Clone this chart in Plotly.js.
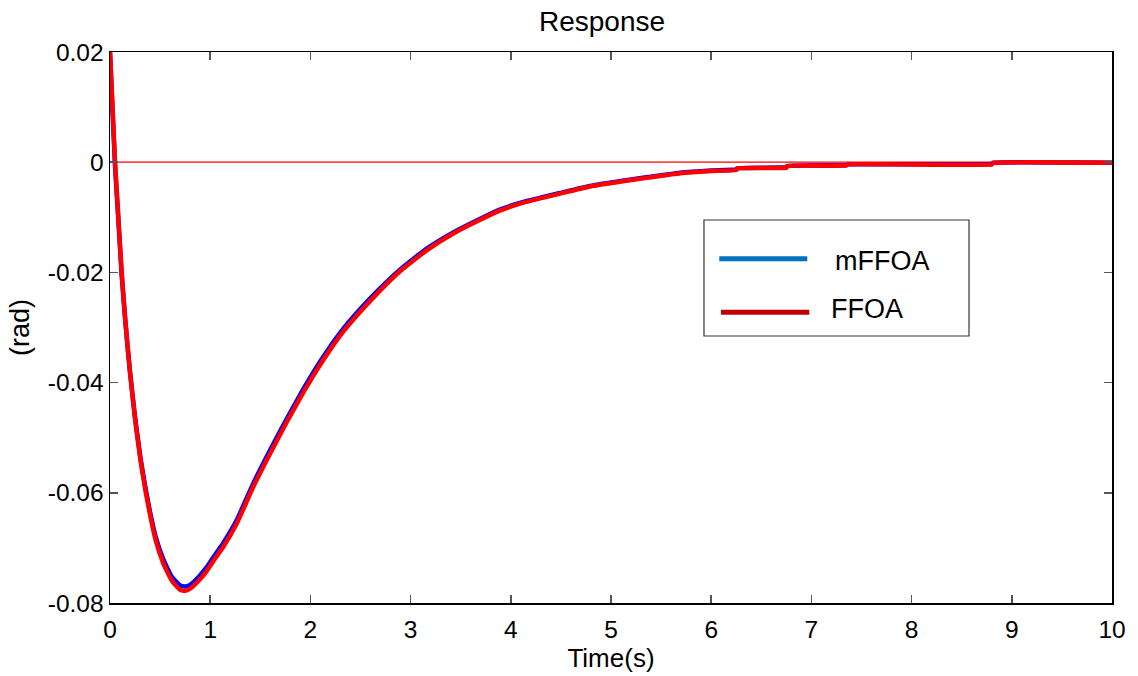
<!DOCTYPE html>
<html>
<head>
<meta charset="utf-8">
<script src="https://cdn.plot.ly/plotly-3.0.1.min.js"></script>
<style>html,body{margin:0;padding:0;background:#fff;}#chart{width:1138px;height:676px;}</style>
</head>
<body>
<div id="chart"></div>
<script>
// ---- data ----
const time = [0, 0.025, 0.05, 0.085, 0.117, 0.15, 0.176, 0.2, 0.25, 0.306,
  0.356, 0.4, 0.456, 0.532, 0.615, 0.7, 0.75, 0.8, 0.898, 0.965, 1.031,
  1.131, 1.264, 1.43, 1.597, 1.763, 1.929, 2.096, 2.295, 2.495, 2.695, 2.894,
  3.16, 3.43, 3.69, 3.89, 4.092,
  4.49, 4.79, 5.1, 5.37, 5.69, 6.0, 6.25,
  6.26, 6.75, 6.76, 7.35, 7.36, 8.8, 8.81, 10];

const ffoa = [0.02, 0.01, 0, -0.0105, -0.0202, -0.028, -0.0335, -0.0382, -0.0466, -0.0543,
  -0.0598, -0.0640, -0.0686, -0.0728, -0.0759, -0.0776, -0.0778, -0.0774, -0.0757, -0.0742, -0.0724,
  -0.0698, -0.0656, -0.0589, -0.0529, -0.0472, -0.0418, -0.0368, -0.0315, -0.0272, -0.0233, -0.0198,
  -0.0160, -0.0129, -0.0105, -0.0088, -0.0075,
  -0.0057, -0.0044, -0.0035, -0.0028, -0.0020, -0.0016, -0.0014,
  -0.0011, -0.0010, -0.0007, -0.0006, -0.0004, -0.0004, -0.00015, -0.0001];

const mffoa = [0.02, 0.0095, -0.0005, -0.011, -0.0205, -0.0282, -0.0336, -0.0381, -0.0463, -0.0539,
  -0.0593, -0.0635, -0.068, -0.0721, -0.0752, -0.0768, -0.077, -0.0767, -0.0750, -0.0735, -0.0717,
  -0.0691, -0.0650, -0.0583, -0.0523, -0.0466, -0.0412, -0.0362, -0.0310, -0.0267, -0.0229, -0.0195,
  -0.0157, -0.0127, -0.0103, -0.0086, -0.0074,
  -0.0056, -0.0043, -0.0034, -0.0027, -0.0019, -0.0015, -0.0013,
  -0.0011, -0.0009, -0.0007, -0.0005, -0.0004, -0.0003, -0.00012, -0.0001];

const refX = [0, 10];
const refY = [0, 0];

const xTickVals = [0, 1, 2, 3, 4, 5, 6, 7, 8, 9, 10];
const xTickText = ["0", "1", "2", "3", "4", "5", "6", "7", "8", "9", "10"];
const yTickVals = [0.02, 0, -0.02, -0.04, -0.06, -0.08];
const yTickText = ["0.02", "0", "-0.02", "-0.04", "-0.06", "-0.08"];

const legendNames = ["mFFOA", "FFOA"];
const chartTitle = "Response";
const xTitle = "Time(s)";
const yTitle = "(rad)";

// ---- traces ----
const traces = [
  {x: refX, y: refY, mode: "lines", line: {color: "#FF0000", width: 1.2}, showlegend: false, hoverinfo: "skip"},
  {x: time, y: mffoa, name: legendNames[0], mode: "lines", line: {color: "#0000FF", width: 4.5, shape: "spline", smoothing: 0.4}, showlegend: false},
  {x: time, y: ffoa, name: legendNames[1], mode: "lines", line: {color: "#FF0000", width: 4.5, shape: "spline", smoothing: 0.4}, showlegend: false}
];

const FONT = "Liberation Sans, Arial, sans-serif";

const layout = {
  width: 1138, height: 676,
  margin: {l: 110, r: 26, t: 52, b: 73},
  paper_bgcolor: "#ffffff", plot_bgcolor: "#ffffff",
  font: {family: FONT, size: 24, color: "#000"},
  title: {text: chartTitle, x: 0.529, xanchor: "center", y: 0.969, yanchor: "middle",
          font: {family: FONT, size: 28, color: "#000"}},
  xaxis: {
    range: [0, 10], tickvals: xTickVals, ticktext: xTickText,
    showgrid: false, zeroline: false, showline: true, linecolor: "#000", linewidth: 1.5, mirror: "ticks",
    ticks: "inside", ticklen: 8, tickcolor: "#555", tickwidth: 1.5, ticklabelstandoff: 4,
    tickfont: {family: FONT, size: 24.5, color: "#000"},
    title: {text: xTitle, font: {family: FONT, size: 26, color: "#000"}, standoff: 4}
  },
  yaxis: {
    range: [-0.08, 0.02], tickvals: yTickVals, ticktext: yTickText,
    showgrid: false, zeroline: false, showline: true, linecolor: "#000", linewidth: 1.5, mirror: "ticks",
    ticks: "inside", ticklen: 8, tickcolor: "#555", tickwidth: 1.5,
    tickfont: {family: FONT, size: 24.5, color: "#000"},
    title: {text: yTitle, font: {family: FONT, size: 27, color: "#000"}, standoff: 10}
  },
  showlegend: false,
  shapes: [
    {type: "rect", xref: "paper", yref: "paper", x0: 0.5928, x1: 0.8573, y0: 0.4846, y1: 0.6951,
     line: {color: "#333", width: 1.2}, fillcolor: "#ffffff", layer: "above"},
    {type: "line", xref: "paper", yref: "paper", x0: 0.6081, x1: 0.6959, y0: 0.6249, y1: 0.6249,
     line: {color: "#0070C0", width: 5}, layer: "above"},
    {type: "line", xref: "paper", yref: "paper", x0: 0.6098, x1: 0.6979, y0: 0.5276, y1: 0.5276,
     line: {color: "#C00000", width: 5}, layer: "above"}
  ],
  annotations: [
    {xref: "paper", yref: "paper", x: 0.7216, y: 0.6207, xanchor: "left", yanchor: "middle",
     text: legendNames[0], showarrow: false, font: {family: FONT, size: 27, color: "#000"}},
    {xref: "paper", yref: "paper", x: 0.7176, y: 0.5336, xanchor: "left", yanchor: "middle",
     text: legendNames[1], showarrow: false, font: {family: FONT, size: 27, color: "#000"}}
  ]
};

Plotly.newPlot("chart", traces, layout, {displayModeBar: false, staticPlot: true});
</script>
</body>
</html>
